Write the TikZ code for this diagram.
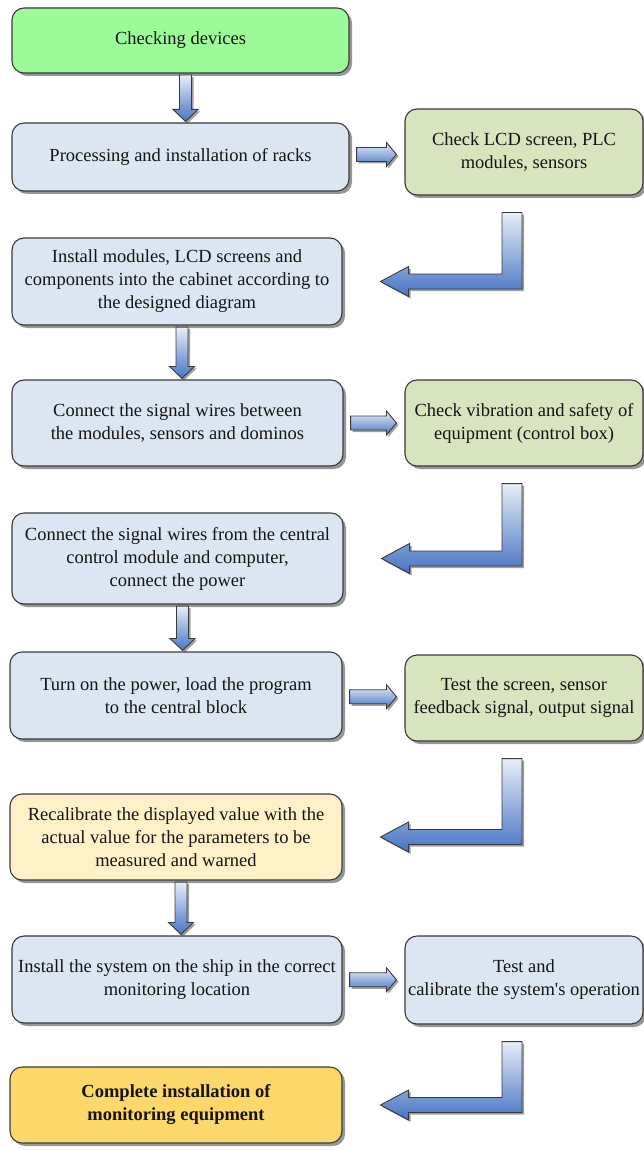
\documentclass[tikz,border=0pt]{standalone}
\usepackage{fontspec}
\setmainfont{Liberation Serif}
\newfontfamily\rawserif{Liberation Serif}[Ligatures=TeXOff]
\usetikzlibrary{shadows,calc}
\definecolor{bgreen}{HTML}{9CFB98}
\definecolor{lblue}{HTML}{DCE6F2}
\definecolor{lgreen}{HTML}{D7E4BD}
\definecolor{lcream}{HTML}{FFF0C8}
\definecolor{gold}{HTML}{FCD86A}
\definecolor{edge}{HTML}{3A3A3A}
\definecolor{txt}{HTML}{141414}
\definecolor{arlight}{HTML}{E8EDF8}
\definecolor{arblue}{HTML}{4674C4}
\tikzset{
 box/.style={draw=edge, line width=1.1pt, rounded corners=12pt, align=center, text=txt, inner sep=2pt,
   font=\fontsize{18.5}{23}\selectfont,
   drop shadow={shadow xshift=3pt, shadow yshift=-3pt, fill=black!75, opacity=0.55}},
 leftbox/.style={box, minimum width=332pt},
 rightbox/.style={box, minimum width=238pt},
 barrow/.style={draw=edge, line width=0.9pt, top color=arlight, bottom color=arblue, line join=miter,
   drop shadow={shadow xshift=2pt, shadow yshift=-2pt, fill=black!75, opacity=0.5}},
}
\newcommand{\downblock}[2]{%
 \path[barrow] let \p1=(#1.south), \p2=(#2.north) in
  (\x1-1pt,\y1-1.5pt) -- (\x1+11pt,\y1-1.5pt) -- (\x1+11pt,\y2+13pt) -- (\x1+17.5pt,\y2+13pt)
  -- (\x1+5pt,\y2+1pt) -- (\x1-7.5pt,\y2+13pt) -- (\x1-1pt,\y2+13pt) -- cycle;}
\newcommand{\rightblock}[2]{%
 \path[barrow] let \p1=(#1.east), \p2=(#2.west), \p3=($(#1.east)!0.5!(#2.west)$) in
  (\x1+7pt,\y3+7pt) -- (\x2-18pt,\y3+7pt) -- (\x2-18pt,\y3+12pt) -- (\x2-8pt,\y3)
  -- (\x2-18pt,\y3-12pt) -- (\x2-18pt,\y3-7pt) -- (\x1+7pt,\y3-7pt) -- cycle;}
\newcommand{\bentblock}[2]{%
 \path[barrow] let \p1=(#1.south), \p2=(#2.east) in
  (\x1-22pt,\y1-17pt) -- (\x1-2pt,\y1-17pt) -- (\x1-2pt,\y2-7.5pt) -- (\x2+66pt,\y2-7.5pt)
  -- (\x2+66pt,\y2-15pt) -- (\x2+38pt,\y2) -- (\x2+66pt,\y2+15pt) -- (\x2+66pt,\y2+7.5pt)
  -- (\x1-22pt,\y2+7.5pt) -- cycle;}
\begin{document}
\begin{tikzpicture}[x=1pt,y=-1pt]
\useasboundingbox (0,0) rectangle (644,1150);
% left column
\node[leftbox, fill=bgreen, minimum width=337pt, minimum height=65pt] (b1) at (180.5,40.5) {Checking devices};
\node[leftbox, fill=lblue, minimum width=337pt, minimum height=68pt] (b2) at (180.5,157) {Processing and installation of racks};
\node[leftbox, fill=lblue, minimum width=330pt, minimum height=87pt] (b3) at (177,281.5) {Install modules, LCD screens and\\components into the cabinet according to\\the designed diagram};
\node[leftbox, fill=lblue, minimum width=331pt, minimum height=86pt] (b4) at (177.5,423) {Connect the signal wires between\\the modules, sensors and dominos};
\node[leftbox, fill=lblue, minimum width=331pt, minimum height=91pt] (b5) at (177.5,558.5) {Connect the signal wires from the central\\control module and computer,\\connect the power};
\node[leftbox, fill=lblue, minimum width=332pt, minimum height=87pt] (b6) at (176,695.5) {Turn on the power, load the program\\to the central block};
\node[leftbox, fill=lcream, minimum width=332pt, minimum height=86pt] (b7) at (176,837) {Recalibrate the displayed value with the\\actual value for the parameters to be\\measured and warned};
\node[leftbox, fill=lblue, minimum width=330pt, minimum height=87pt] (b8) at (177,979.5) {Install the system on the ship in the correct\\monitoring location};
\node[leftbox, fill=gold, minimum width=332pt, minimum height=76pt] (b9) at (176,1105) {\bfseries Complete installation of\\\bfseries monitoring equipment};
% right column
\node[rightbox, fill=lgreen, minimum height=86pt] (r1) at (524,152) {Check LCD screen, PLC\\modules, sensors};
\node[rightbox, fill=lgreen, minimum height=86pt] (r2) at (524,423) {Check vibration and safety of\\equipment (control box)};
\node[rightbox, fill=lgreen, minimum height=86pt] (r3) at (524,698) {Test the screen, sensor\\feedback signal, output signal};
\node[rightbox, fill=lblue, minimum height=88pt] (r4) at (524,980) {Test and\\calibrate the system{\rawserif '}s operation};
% arrows
\downblock{b1}{b2}
\downblock{b3}{b4}
\downblock{b5}{b6}
\downblock{b7}{b8}
\rightblock{b2}{r1}
\rightblock{b4}{r2}
\rightblock{b6}{r3}
\rightblock{b8}{r4}
\bentblock{r1}{b3}
\bentblock{r2}{b5}
\bentblock{r3}{b7}
\bentblock{r4}{b9}
\end{tikzpicture}
\end{document}
